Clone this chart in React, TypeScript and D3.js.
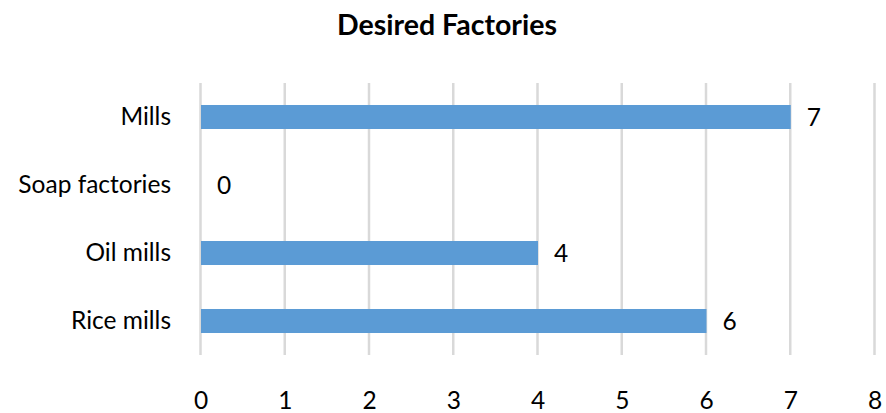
import React from "react";
import * as d3 from "d3";

const categories = ["Mills", "Soap factories", "Oil mills", "Rice mills"];
const counts = [7, 0, 4, 6];
const xTicks = [0, 1, 2, 3, 4, 5, 6, 7, 8];
const title = "Desired Factories";

const W = 886;
const H = 413;
const plot = { left: 201, right: 875, top: 83, bottom: 355 };
const FONT = "Lato, 'Open Sans', sans-serif";
const LABEL_SIZE = 24.5;

export default function App() {
  const x = d3.scaleLinear().domain([0, 8]).range([plot.left, plot.right]);
  const y = d3
    .scaleBand<string>()
    .domain(categories)
    .range([plot.top, plot.bottom])
    .paddingInner(0.647)
    .paddingOuter(0.3235);

  return (
    <svg
      width={W}
      height={H}
      style={{ position: "absolute", left: 0, top: 0, background: "#fff" }}
      fontFamily={FONT}
    >
      <text
        x={447}
        y={35}
        textAnchor="middle"
        fontSize={28.5}
        fontWeight="bold"
        fill="#000"
      >
        {title}
      </text>

      {xTicks.map((t) => (
        <line
          key={"g" + t}
          x1={x(t) - 0.5}
          x2={x(t) - 0.5}
          y1={plot.top}
          y2={plot.bottom}
          stroke="#d9d9d9"
          strokeWidth={2.5}
        />
      ))}

      {categories.map((c, i) => {
        const bw = y.bandwidth();
        const cy = (y(c) ?? 0) + bw / 2;
        return (
          <g key={c}>
            {counts[i] > 0 && (
              <rect
                x={x(0)}
                y={y(c)}
                width={x(counts[i]) - x(0)}
                height={bw}
                fill="#5b9bd5"
              />
            )}
            <text
              x={x(counts[i]) + 16}
              y={cy + 9}
              fontSize={LABEL_SIZE}
              fill="#000"
            >
              {counts[i]}
            </text>
            <text
              x={171}
              y={cy + 8}
              textAnchor="end"
              fontSize={LABEL_SIZE}
              fill="#000"
            >
              {c}
            </text>
          </g>
        );
      })}

      {xTicks.map((t) => (
        <text
          key={"t" + t}
          x={x(t)}
          y={409}
          textAnchor="middle"
          fontSize={LABEL_SIZE}
          fill="#000"
        >
          {t}
        </text>
      ))}
    </svg>
  );
}
